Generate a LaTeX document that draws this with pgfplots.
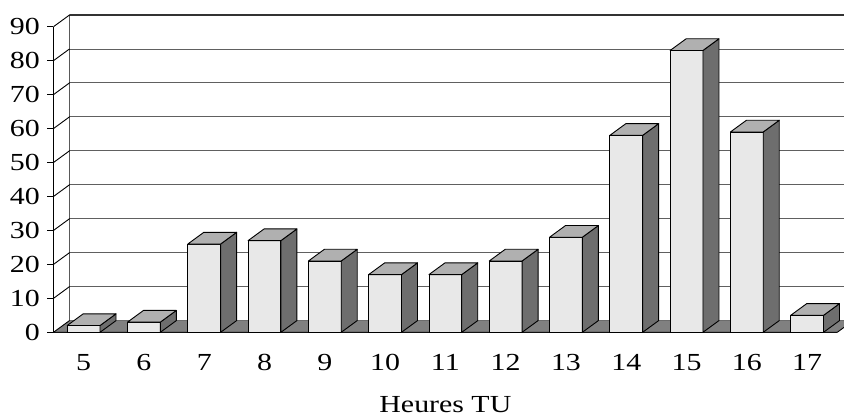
\documentclass[border=0pt]{standalone}
\usepackage{fontspec}
\setmainfont{Liberation Serif}[FakeStretch=1.22]
\usepackage{pgfplots}
\pgfplotsset{compat=1.18}
\usepackage{pgfplotstable}

\definecolor{frontface}{RGB}{232,232,232}
\definecolor{topface}{RGB}{176,176,176}
\definecolor{sideface}{RGB}{110,110,110}
\definecolor{floorgray}{RGB}{128,128,128}
\definecolor{gridgray}{RGB}{96,96,96}

% hourly counts, one column per hour (UT)
\pgfplotstableread{
x    h
0.5  2
1.5  3
2.5  26
3.5  27
4.5  21
5.5  17
6.5  17
7.5  21
8.5  28
9.5  58
10.5 83
11.5 59
12.5 5
}\hourly

% oblique depth of the 3-D look, half width of a column, y unit
\def\depthx{16pt}
\def\depthy{11.7pt}
\def\halfbar{16.4pt}
\def\yunit{3.3956}

% a column drawn from its top front centre down to the floor
\pgfdeclareplotmark{column3d}{%
  \pgfmathsetlengthmacro\colh{\val*\yunit}%
  \draw[black, line width=0.9pt, line join=round, fill=frontface]
    (-\halfbar,-\colh) rectangle (\halfbar,0pt);
  \draw[black, line width=0.9pt, line join=round, fill=sideface]
    (\halfbar,0pt) -- ++(\depthx,\depthy) -- ++(0pt,-\colh) -- (\halfbar,-\colh) -- cycle;
  \draw[black, line width=0.9pt, line join=round, fill=topface]
    (-\halfbar,0pt) -- ++(\depthx,\depthy) -- ++(32.8pt,0pt) -- (\halfbar,0pt) -- cycle;
}

\begin{document}
\begin{tikzpicture}
% back wall with its grid
\begin{axis}[
  at={(\depthx,\depthy)}, anchor=origin,
  x=60.29pt, y=\yunit pt,
  xmin=0, xmax=13, ymin=0, ymax=90,
  axis line style={draw=none},
  xtick=\empty, ytick={0,10,...,90}, yticklabels={},
  major tick length=0pt,
  ymajorgrids, grid style={gridgray, line width=0.9pt},
]
\draw[black, line width=0.9pt] (axis cs:0,0) -- (axis cs:0,90);
\draw[black!80, line width=1.2pt] (axis cs:0,90) -- (axis cs:13,90);
\end{axis}

% front plane: floor, columns, axes
\begin{axis}[
  at={(0pt,0pt)}, anchor=origin,
  x=60.29pt, y=\yunit pt,
  xmin=0, xmax=13, ymin=0, ymax=90,
  clip=false,
  axis x line*=bottom, axis y line*=left,
  axis line style={black, line width=0.9pt},
  tick align=outside,
  tick style={black, line width=0.9pt},
  major tick length=6.5pt, minor tick length=6.5pt,
  xtick={0.5,1.5,...,12.5},
  xticklabels={5,6,7,8,9,10,11,12,13,14,15,16,17},
  x tick style={draw=none},
  minor xtick={0,1,...,13},
  ytick={0,10,...,90},
  /pgf/number format/assume math mode=true,
  tick label style={font=\fontsize{24.5}{28}\selectfont, inner sep=0pt},
  xticklabel style={anchor=north, yshift=-15pt},
  yticklabel style={anchor=east, xshift=-7pt},
  xlabel={Heures TU},
  xlabel style={font=\fontsize{24.5}{28}\selectfont, inner sep=0pt,
    at={(axis description cs:0.5,0)}, anchor=base, yshift=-80.5pt},
]
\fill[floorgray] (axis cs:0,0) -- (axis cs:13,0) -- ++(\depthx,\depthy)
  -- ([shift={(\depthx,\depthy)}]axis cs:0,0) -- cycle;
\draw[black, line width=0.9pt] (axis cs:0,0) -- (axis cs:13,0) -- ++(\depthx,\depthy);
\pgfplotsinvokeforeach{0,10,...,90}{
  \draw[black, line width=0.9pt] (axis cs:0,#1) -- ++(\depthx,\depthy);
}
\addplot[only marks, mark=column3d,
  visualization depends on={\thisrow{h} \as \val}]
  table[x=x, y=h] {\hourly};
\end{axis}
\pgfresetboundingbox
\useasboundingbox (-53.5pt,-84.7pt) rectangle (790.5pt,332.3pt);
\end{tikzpicture}
\end{document}
